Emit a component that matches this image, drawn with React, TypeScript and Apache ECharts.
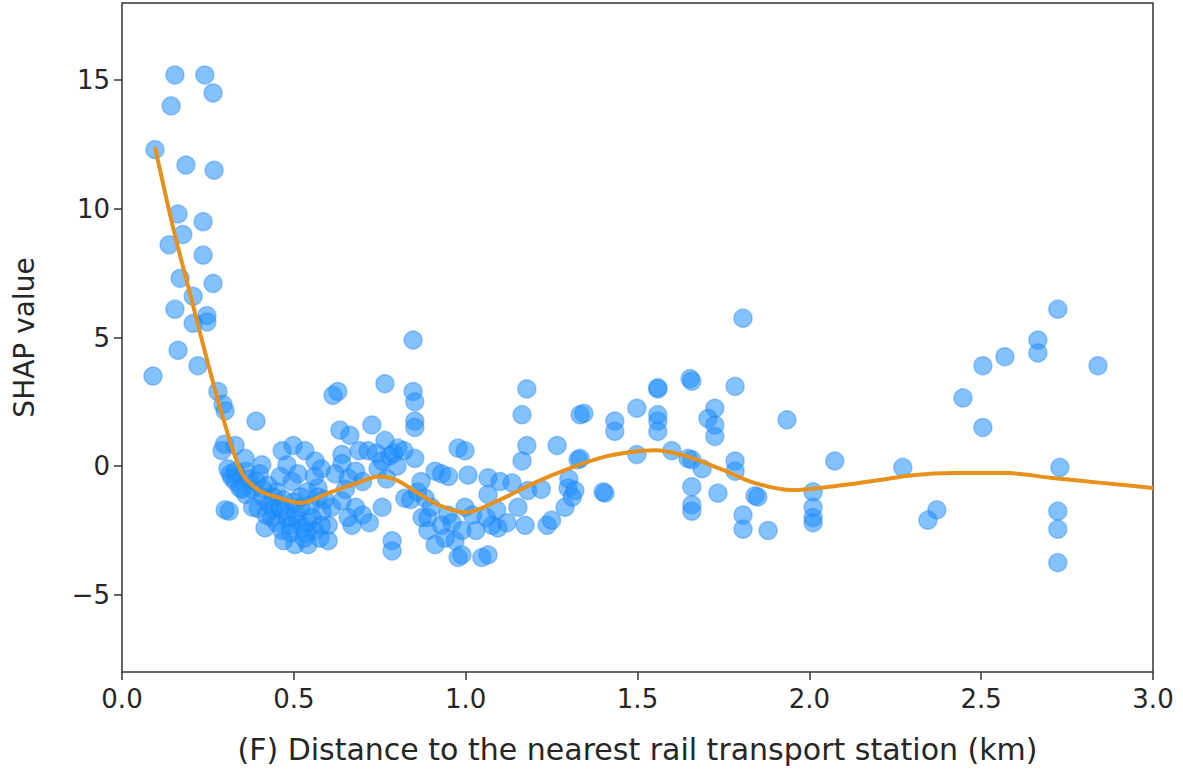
import React, { useEffect, useRef } from "react";
import * as echarts from "echarts";

// Scatter points: [distance (km), SHAP value]
const pointsHigh: number[][] = [
  [0.154, 15.2], [0.241, 15.2], [0.265, 14.5], [0.143, 14.0], [0.096, 12.3], [0.186, 11.7],
  [0.268, 11.5], [0.163, 9.8], [0.236, 9.5], [0.177, 9.0], [0.137, 8.6], [0.236, 8.2],
  [0.169, 7.3], [0.265, 7.1], [0.207, 6.6], [0.154, 6.1], [0.247, 5.85], [0.247, 5.6],
  [0.207, 5.55], [0.163, 4.5], [0.221, 3.9], [0.09, 3.5], [0.279, 2.9], [0.294, 2.4],
  [0.3, 2.15], [0.39, 1.75],
];
const pointsNear05: number[][] = [
  [0.291, 0.6], [0.298, 0.85], [0.308, -0.1], [0.315, -0.3], [0.32, -0.45], [0.33, -0.6],
  [0.343, -0.85], [0.3, -1.7], [0.312, -1.75], [0.329, 0.8], [0.358, 0.3], [0.36, -0.2],
  [0.37, -0.5], [0.38, -0.9], [0.407, 0.05], [0.4, -0.3], [0.425, -0.75], [0.41, -1.2],
  [0.396, -1.65], [0.43, -1.5], [0.436, -2.0], [0.416, -2.4], [0.45, -2.2], [0.466, 0.6],
  [0.498, 0.8], [0.532, 0.6], [0.562, 0.2], [0.48, 0.05], [0.512, -0.3], [0.495, -0.6],
  [0.46, -0.4], [0.45, -1.0], [0.47, -1.3], [0.57, -0.85], [0.474, -1.75], [0.512, -2.1],
  [0.553, -2.0], [0.582, -1.75], [0.466, -2.5], [0.503, -3.05], [0.541, -3.05], [0.576, -2.8],
  [0.49, -2.6], [0.525, -2.4], [0.55, -1.5], [0.52, -1.6], [0.54, -1.0], [0.59, -1.3],
  [0.6, -2.3], [0.6, -2.9], [0.56, -2.5], [0.48, -2.0], [0.44, -1.7], [0.38, -1.6],
  [0.36, -1.1], [0.53, -2.8], [0.505, -1.9], [0.56, -0.4], [0.58, -0.1],
];
const pointsBlob: number[][] = [
  [0.42, -1.9], [0.46, -1.6], [0.49, -2.3], [0.52, -1.2], [0.54, -2.2], [0.57, -1.2],
  [0.44, -1.2], [0.5, -1.4], [0.535, -2.6], [0.47, -2.9], [0.39, -0.6], [0.41, -0.9],
  [0.35, -0.9], [0.33, -0.2], [0.58, -2.3], [0.61, -1.6],
];
const pointsNear07: number[][] = [
  [0.614, 2.75], [0.628, 2.9], [0.634, 1.4], [0.663, 1.2], [0.727, 1.6], [0.64, 0.45],
  [0.64, 0.1], [0.658, -0.47], [0.64, -1.35], [0.658, -2.0], [0.669, -2.3], [0.62, -0.3],
  [0.65, -0.9], [0.68, -0.2], [0.69, 0.6], [0.716, 0.6], [0.7, -0.6], [0.68, -1.6],
  [0.7, -1.9], [0.72, -2.2],
];
const pointsNear09: number[][] = [
  [0.765, 3.2], [0.847, 4.9], [0.847, 2.9], [0.852, 2.5], [0.852, 1.75], [0.852, 1.5],
  [0.765, 1.0], [0.803, 0.7], [0.852, 0.3], [0.911, -0.2], [0.757, 0.2], [0.745, -0.1],
  [0.78, 0.4], [0.79, 0.5], [0.82, 0.6], [0.8, 0.0], [0.757, -1.6], [0.823, -1.25],
  [0.84, -1.3], [0.786, -2.9], [0.786, -3.3], [0.873, -2.0], [0.89, -2.5], [0.911, -3.05],
  [0.948, -1.9], [0.969, -2.9], [0.978, -3.55], [0.882, -1.25], [0.9, -1.6], [0.93, -2.3],
  [0.94, -2.8], [0.86, -1.0], [0.93, -0.3], [0.95, -0.4], [0.978, 0.7], [0.74, 0.5],
  [0.77, -0.5], [0.87, -0.6], [0.89, -2.0], [0.96, -2.2],
];
const pointsNear12: number[][] = [
  [1.178, 3.0], [1.164, 2.0], [1.178, 0.8], [1.164, 0.2], [0.998, 0.6], [1.266, 0.8],
  [1.333, 2.0], [1.327, 0.25], [1.007, -0.35], [1.065, -0.45], [1.135, -0.65], [1.181, -0.95],
  [1.065, -1.1], [0.998, -1.6], [1.298, -0.85], [1.289, -1.6], [1.152, -1.6], [1.077, -2.3],
  [1.094, -2.4], [1.173, -2.3], [1.237, -2.3], [0.989, -2.5], [0.989, -3.45], [1.047, -3.55],
  [1.065, -3.45], [1.03, -2.5], [1.02, -1.9], [1.06, -2.0], [1.09, -1.7], [1.1, -0.6],
  [1.22, -0.9], [1.25, -2.1], [1.3, -0.5], [1.31, -1.2], [1.12, -2.2],
];
const pointsNear17: number[][] = [
  [1.344, 2.05], [1.405, -1.05], [1.318, -0.95], [1.434, 1.75], [1.434, 1.35], [1.498, 2.25],
  [1.559, 3.0], [1.559, 1.75], [1.559, 1.35], [1.559, 3.05], [1.559, 2.0], [1.498, 0.45],
  [1.6, 0.6], [1.647, 0.3], [1.333, 0.3], [1.653, 3.4], [1.658, 3.3], [1.658, -0.8],
  [1.658, -1.5], [1.658, -1.75], [1.807, 5.75], [1.784, 3.1], [1.725, 2.25], [1.705, 1.85],
  [1.725, 1.6], [1.725, 1.15], [1.935, 1.8], [1.658, 0.25], [1.688, -0.1], [1.784, 0.2],
  [1.784, -0.2], [1.734, -1.05], [1.842, -1.15], [1.85, -1.2], [1.807, -1.9], [1.807, -2.45],
  [1.88, -2.5], [2.074, 0.2], [2.011, -1.0], [2.011, -1.6], [2.011, -2.0], [2.011, -2.2],
  [1.4, -1.0],
];
const pointsFar: number[][] = [
  [2.723, 6.1], [2.665, 4.9], [2.665, 4.4], [2.569, 4.25], [2.505, 3.9], [2.84, 3.9],
  [2.447, 2.65], [2.505, 1.5], [2.272, -0.05], [2.729, -0.05], [2.371, -1.7], [2.345, -2.1],
  [2.723, -1.75], [2.723, -2.45], [2.723, -3.75],
];

// Smoothed trend line
const trendX = [0.096, 0.15, 0.2, 0.25, 0.3, 0.35, 0.4, 0.45, 0.52, 0.6, 0.67, 0.75, 0.8, 0.85, 0.92, 1.0,
  1.1, 1.2, 1.3, 1.4, 1.48, 1.55, 1.64, 1.74, 1.84, 1.95, 2.03, 2.2, 2.3, 2.42, 2.58, 2.7, 2.85, 3.0];
const trendY = [12.4, 9.2, 6.6, 4.0, 1.6, -0.3, -0.95, -1.2, -1.43, -1.05, -0.72, -0.4, -0.55, -0.95, -1.5, -1.8,
  -1.3, -0.65, -0.1, 0.35, 0.55, 0.62, 0.4, -0.1, -0.65, -0.93, -0.85, -0.55, -0.35, -0.27, -0.27, -0.45, -0.65, -0.85];

const yTicks = [-5, 0, 5, 10, 15];
const xTicks = [0, 0.5, 1, 1.5, 2, 2.5, 3];

export default function App() {
  const ref = useRef<HTMLDivElement>(null);
  useEffect(() => {
    if (!ref.current) return;
    const chart = echarts.init(ref.current, undefined, { renderer: "svg" });
    const allPoints = [
      ...pointsHigh, ...pointsNear05, ...pointsBlob, ...pointsNear07, ...pointsNear09,
      ...pointsNear12, ...pointsNear17, ...pointsFar,
    ];
    const font = "DejaVu Sans";
    const textColor = "#262626";
    chart.setOption({
      animation: false,
      backgroundColor: "#ffffff",
      grid: {
        left: 122, right: 30, top: 3, bottom: 96,
        show: true, borderColor: "#333", borderWidth: 1.5, backgroundColor: "transparent",
      },
      xAxis: {
        type: "value", min: 0, max: 3,
        name: "(F) Distance to the nearest rail transport station (km)",
        nameLocation: "middle", nameGap: 62,
        nameTextStyle: { fontFamily: font, fontSize: 30, color: textColor },
        axisLine: { show: false, onZero: false },
        axisTick: { show: true, inside: false, length: 8, lineStyle: { color: "#333", width: 1.5 }, customValues: xTicks },
        axisLabel: {
          fontFamily: font, fontSize: 26, color: textColor, margin: 14,
          customValues: xTicks,
          formatter: (v: number) => v.toFixed(1),
        },
        splitLine: { show: false },
      },
      yAxis: {
        type: "value", min: -8, max: 18,
        name: "SHAP value",
        nameLocation: "middle", nameGap: 84, nameRotate: 90,
        nameTextStyle: { fontFamily: font, fontSize: 28, color: textColor },
        axisLine: { show: false, onZero: false },
        axisTick: { show: true, inside: false, length: 8, lineStyle: { color: "#333", width: 1.5 }, customValues: yTicks },
        axisLabel: {
          fontFamily: font, fontSize: 26, color: textColor, margin: 12,
          customValues: yTicks,
          formatter: (v: number) => (v < 0 ? "\u2212" + Math.abs(v) : String(v)),
        },
        splitLine: { show: false },
      },
      series: [
        {
          type: "scatter",
          data: allPoints,
          symbolSize: 18,
          itemStyle: {
            color: "rgba(30,144,255,0.68)",
            borderColor: "rgba(30,130,240,0.5)",
            borderWidth: 1.5,
          },
          z: 2,
        },
        {
          type: "line",
          data: trendX.map((x, i) => [x, trendY[i]]),
          showSymbol: false,
          smooth: 0.3,
          lineStyle: { color: "#e8901c", width: 4 },
          z: 3,
        },
      ],
    });
    return () => chart.dispose();
  }, []);
  return (
    <div
      ref={ref}
      style={{ position: "fixed", left: 0, top: 0, width: 1183, height: 769, background: "#fff" }}
    />
  );
}
